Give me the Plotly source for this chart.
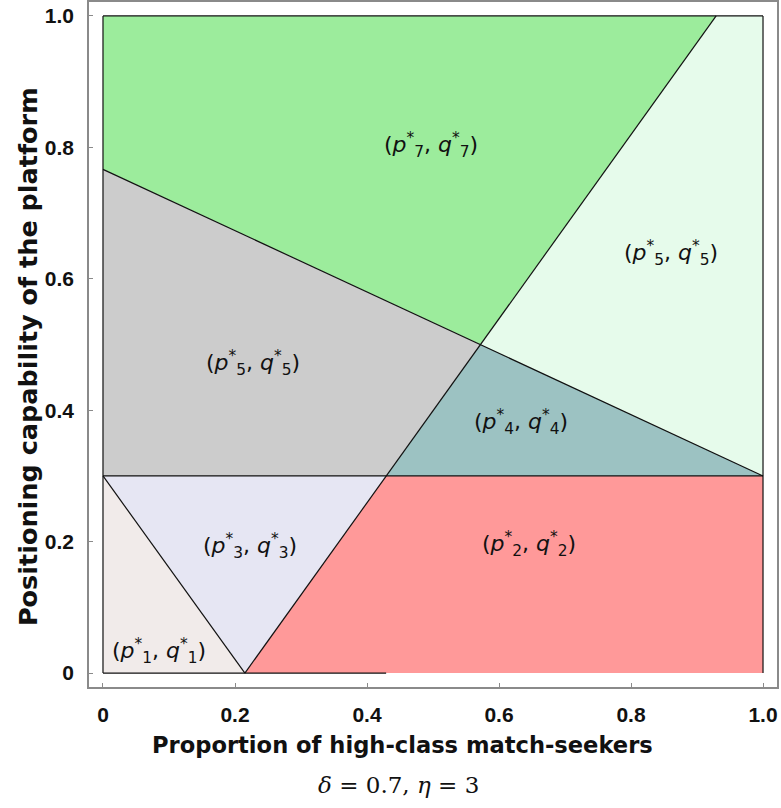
import plotly.graph_objects as go

# Region boundaries in the (share of high-class seekers, positioning capability) plane
q_cut = 0.3            # horizontal boundary
q_diag_left = 0.7665   # diagonal boundary at x = 0 (reaches q_cut at x = 1)
x_vertex = 0.215       # steep boundary touches q = 0 here
x_top = 0.929          # steep boundary reaches q = 1 here
x_mid = 0.429          # steep boundary crosses q = q_cut
x_cross, q_cross = 0.5718, 0.50  # steep boundary meets the diagonal

regions = {
    "p7": dict(x=[0, 0, x_top, x_cross, 0], y=[q_diag_left, 1, 1, q_cross, q_diag_left], color="#9cec9c"),
    "p5r": dict(x=[x_cross, x_top, 1, 1, x_cross], y=[q_cross, 1, 1, q_cut, q_cross], color="#e6fbeb"),
    "p5l": dict(x=[0, 0, x_cross, x_mid, 0], y=[q_cut, q_diag_left, q_cross, q_cut, q_cut], color="#cccccc"),
    "p4": dict(x=[x_mid, x_cross, 1, x_mid], y=[q_cut, q_cross, q_cut, q_cut], color="#9cc2c2"),
    "p3": dict(x=[0, x_mid, x_vertex, 0], y=[q_cut, q_cut, 0, q_cut], color="#e6e6f3"),
    "p1": dict(x=[0, 0, x_vertex, 0], y=[0, q_cut, 0, 0], color="#f1ebea"),
    "p2": dict(x=[x_vertex, x_mid, 1, 1, x_vertex], y=[0, q_cut, q_cut, 0, 0], color="#ff9999"),
}

# Boundary segments drawn in black
boundaries = [
    ([0, 1], [q_diag_left, q_cut]),
    ([0, 1], [q_cut, q_cut]),
    ([0, x_vertex], [q_cut, 0]),
    ([x_vertex, x_top], [0, 1]),
    ([0, 1], [1, 1]),
    ([0, 0], [0, 1]),
    ([0, x_mid], [0, 0]),
    ([1, 1], [0, 1]),
]

label_text = ["1", "3", "5", "4", "5", "7", "2"]
label_x = [0.085, 0.222, 0.227, 0.633, 0.86, 0.497, 0.645]
label_y = [0.033, 0.194, 0.472, 0.382, 0.639, 0.804, 0.197]

tick_vals = [0, 0.2, 0.4, 0.6, 0.8, 1.0]
tick_text = ["0", "0.2", "0.4", "0.6", "0.8", "1.0"]

fig = go.Figure()
for name, r in regions.items():
    fig.add_trace(go.Scatter(x=r["x"], y=r["y"], mode="lines", fill="toself",
                             fillcolor=r["color"], line=dict(width=0),
                             hoverinfo="skip", showlegend=False))
for bx, by in boundaries:
    fig.add_trace(go.Scatter(x=bx, y=by, mode="lines",
                             line=dict(color="#111111", width=1.2),
                             hoverinfo="skip", showlegend=False))

for t, lx, ly in zip(label_text, label_x, label_y):
    fig.add_annotation(
        x=lx, y=ly, xref="x", yref="y", showarrow=False,
        text=f"(<i>p</i><sup>*</sup><sub>{t}</sub>, <i>q</i><sup>*</sup><sub>{t}</sub>)",
        font=dict(family="DejaVu Sans", size=22, color="#111111"))

axis_common = dict(
    range=[-0.0212, 1.0212], tickvals=tick_vals,
    ticktext=[f"<b>{t}</b>" for t in tick_text],
    showgrid=False, zeroline=False, showline=True, mirror=True,
    linecolor="#8a8a8a", linewidth=1.5, ticks="inside", ticklen=4,
    tickcolor="#8a8a8a", tickfont=dict(family="Liberation Sans", size=21, color="#111111"),
)

fig.update_layout(
    width=781, height=808,
    margin=dict(l=89, r=4, t=0, b=121),
    plot_bgcolor="white", paper_bgcolor="white",
    xaxis=dict(**axis_common, ticklabelstandoff=8),
    yaxis=dict(**axis_common, ticklabelstandoff=9),
)

fig.add_annotation(xref="paper", yref="paper", x=0.455, y=-0.084, yanchor="middle",
                   showarrow=False,
                   text="<b>Proportion of high-class match-seekers</b>",
                   font=dict(family="DejaVu Sans", size=22.6, color="#111111"))
fig.add_annotation(xref="paper", yref="paper", x=-0.0887, y=0.483, xanchor="center",
                   yanchor="middle", showarrow=False, textangle=-90,
                   text="<b>Positioning capability of the platform</b>",
                   font=dict(family="DejaVu Sans", size=25.5, color="#111111"))
fig.add_annotation(xref="paper", yref="paper", x=0.45, y=-0.1426, yanchor="middle",
                   showarrow=False,
                   text="<i>δ</i> = 0.7, <i>η</i> = 3",
                   font=dict(family="DejaVu Serif", size=23, color="#111111"))

fig.write_html("out.html")
